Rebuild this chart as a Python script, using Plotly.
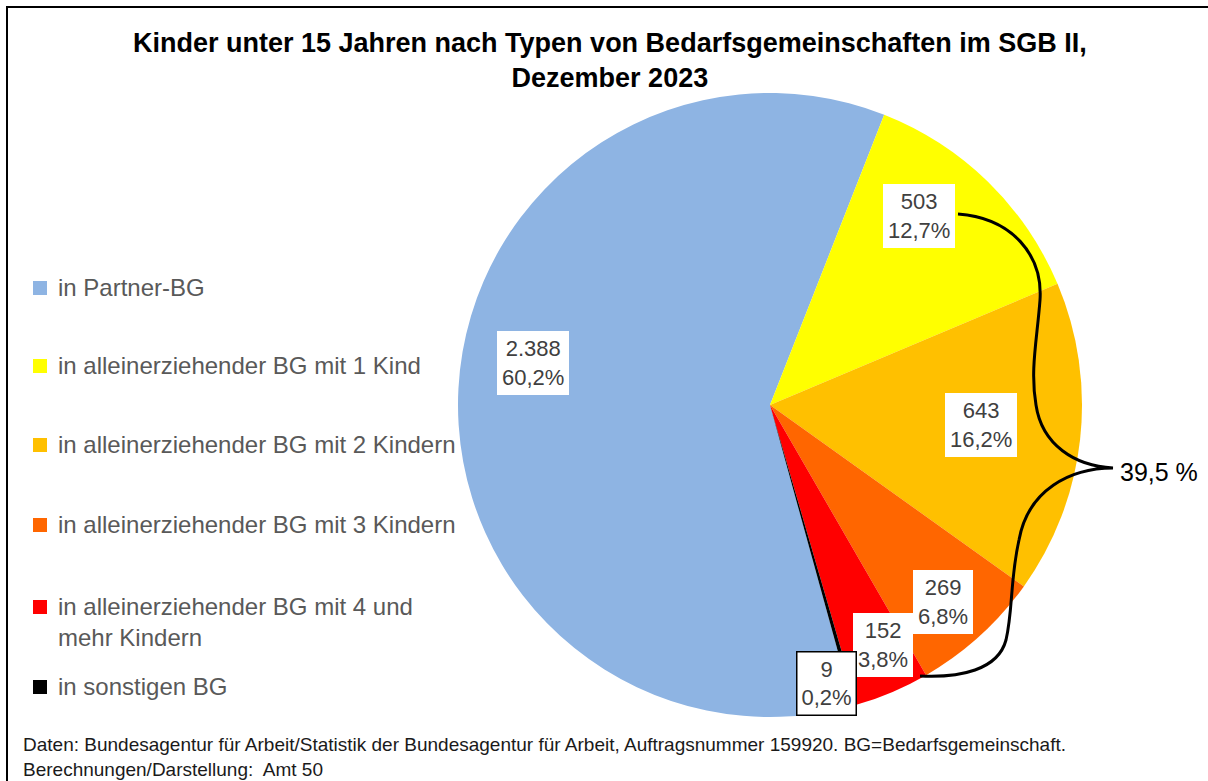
import math
import plotly.graph_objects as go

# ---------------- data ----------------
categories = [
    "in Partner-BG",
    "in alleinerziehender BG mit 1 Kind",
    "in alleinerziehender BG mit 2 Kindern",
    "in alleinerziehender BG mit 3 Kindern",
    "in alleinerziehender BG mit 4 und<br>mehr Kindern",
    "in sonstigen BG",
]
values = [2388, 503, 643, 269, 152, 9]
colors = ["#8EB4E3", "#FFFF00", "#FFC000", "#FF6600", "#FF0000", "#000000"]
single_parent_idx = [1, 2, 3, 4]

title = "<b>Kinder unter 15 Jahren nach Typen von Bedarfsgemeinschaften im SGB II,<br>Dezember 2023</b>"
footer = ("Daten: Bundesagentur für Arbeit/Statistik der Bundesagentur für Arbeit, Auftragsnummer 159920. "
          "BG=Bedarfsgemeinschaft.<br>Berechnungen/Darstellung:  Amt 50")

# ---------------- layout constants ----------------
W, H = 1208, 781
FONT = "Liberation Sans, Arial, sans-serif"
rotation = 164.6
pie_cx, pie_cy, pie_r = 770, 405, 312          # pixels
label_rfrac = [0.77, 0.77, 0.68, 0.84, 0.85, 0.91]
label_dang = [7, -6, -1, 1, -2, 4.4]


def px(x):
    return x / W


def py(y):
    return 1 - y / H


total = sum(values)

fig = go.Figure()
fig.add_trace(go.Pie(
    labels=categories,
    values=values,
    sort=False,
    direction="clockwise",
    rotation=rotation,
    marker=dict(colors=colors, line=dict(width=0)),
    textinfo="none",
    showlegend=False,
    domain=dict(x=[px(pie_cx - pie_r), px(pie_cx + pie_r)],
                y=[py(pie_cy + pie_r), py(pie_cy - pie_r)]),
))

annotations = []
shapes = []

# title
annotations.append(dict(
    x=px(610), y=py(61), xref="paper", yref="paper", xanchor="center", yanchor="middle",
    text=title, showarrow=False, align="center",
    font=dict(family=FONT, size=27, color="black"),
))

# data labels
cum = 0
for i, v in enumerate(values):
    mid = rotation + 360 * (cum + v / 2) / total + label_dang[i]
    cum += v
    th = math.radians(mid)
    x = pie_cx + label_rfrac[i] * pie_r * math.sin(th)
    y = pie_cy - label_rfrac[i] * pie_r * math.cos(th)
    pct = f"{100 * v / total:.1f}".replace(".", ",")
    txt = f"{v:,}".replace(",", ".") + "<br>" + pct + "%"
    last = i == len(values) - 1
    annotations.append(dict(
        x=px(x), y=py(y), xref="paper", yref="paper", xanchor="center", yanchor="middle",
        text=txt, showarrow=False,
        font=dict(family=FONT, size=22, color="#404040"),
        bgcolor="white",
        bordercolor="black" if last else "white",
        borderwidth=1.5 if last else 0,
        borderpad=4 if last else 5,
        align="center",
    ))

# legend
leg_y = [287, 365, 444, 524, 606, 686]
for i, (lab, col) in enumerate(zip(categories, colors)):
    annotations.append(dict(
        x=px(56), y=py(leg_y[i] - 15), xref="paper", yref="paper", xanchor="left", yanchor="top",
        text=lab, showarrow=False, align="left",
        font=dict(family=FONT, size=24, color="#595959"),
    ))
    shapes.append(dict(type="rect", xref="paper", yref="paper",
                       x0=px(33), x1=px(47), y0=py(leg_y[i] - 6), y1=py(leg_y[i] + 8),
                       fillcolor=col, line=dict(width=0)))

# brace and sum label
sp = sum(values[i] for i in single_parent_idx)
annotations.append(dict(
    x=px(1118), y=py(472), xref="paper", yref="paper", xanchor="left", yanchor="middle",
    text=f"{100 * sp / total:.1f}".replace(".", ",") + " %", showarrow=False,
    font=dict(family=FONT, size=25, color="black"),
))
brace_pts = [
    ("M", [(958, 214)]),
    ("C", [(1012, 218), (1043, 255), (1040, 300)]),
    ("C", [(1037, 340), (1030, 370), (1036, 405)]),
    ("C", [(1042, 445), (1075, 466), (1113, 468)]),
    ("C", [(1070, 468), (1028, 490), (1019, 540)]),
    ("C", [(1010, 580), (1013, 610), (1006, 640)]),
    ("C", [(998, 670), (960, 678), (920, 676)]),
]
path = " ".join(cmd + " " + " ".join(f"{px(a):.5f},{py(b):.5f}" for a, b in pts) for cmd, pts in brace_pts)
shapes.append(dict(type="path", xref="paper", yref="paper", path=path,
                   line=dict(color="black", width=3)))

# outer frame
shapes.append(dict(type="rect", xref="paper", yref="paper",
                   x0=px(7), x1=px(W + 20), y0=py(H + 20), y1=py(7),
                   line=dict(color="black", width=2), fillcolor="rgba(0,0,0,0)"))

# footer
annotations.append(dict(
    x=px(21), y=py(732), xref="paper", yref="paper", xanchor="left", yanchor="top",
    text=footer, showarrow=False, align="left",
    font=dict(family=FONT, size=19, color="#1a1a1a"),
))

fig.update_layout(
    width=W, height=H,
    margin=dict(l=0, r=0, t=0, b=0),
    paper_bgcolor="white",
    plot_bgcolor="white",
    annotations=annotations,
    shapes=shapes,
)

fig.write_html("out.html", config={"displayModeBar": False},
               post_script="document.body.style.margin='0';document.body.style.overflow='hidden';")
